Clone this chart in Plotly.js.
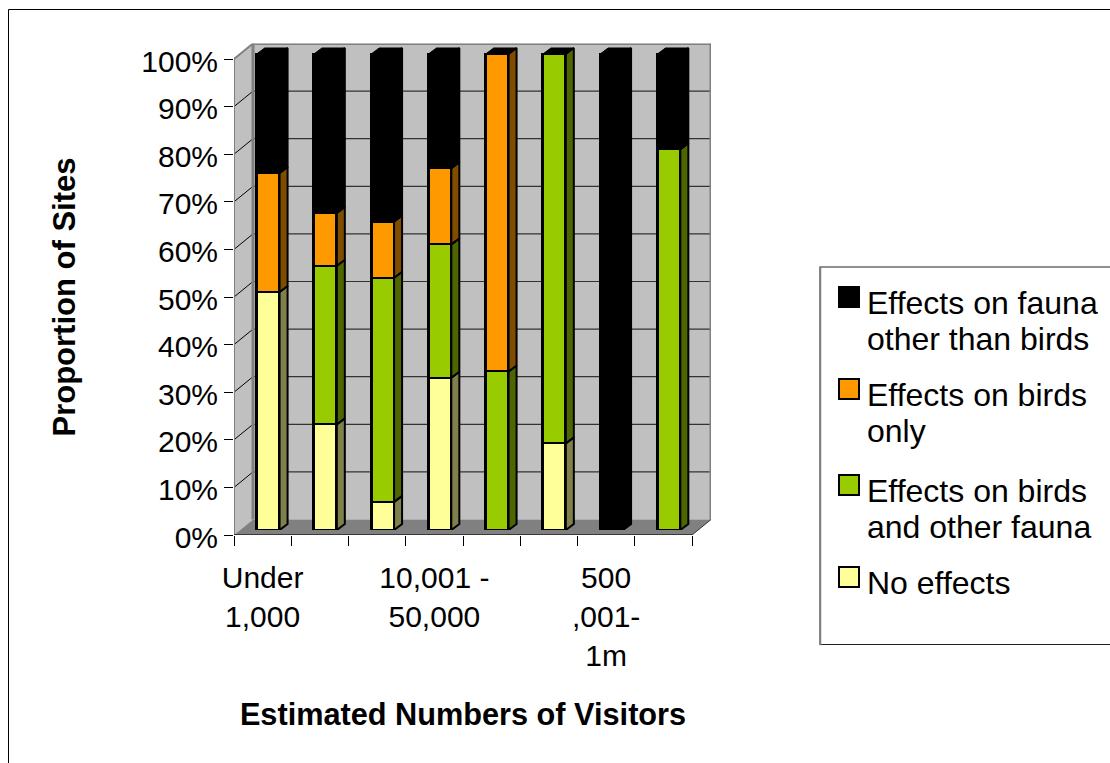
<!DOCTYPE html>
<html>
<head>
<meta charset="utf-8">
<script src="https://cdn.plot.ly/plotly-3.0.1.min.js"></script>
<style>html,body{margin:0;padding:0;background:#fff}#chart{width:1110px;height:763px}</style>
</head>
<body>
<div id="chart"></div>
<script>
// Percentage of sites in each visitor-number band, stacked from the bottom up
const barIndex = [0, 1, 2, 3, 4, 5, 6, 7];
const noEffects = [50, 22.2, 5.9, 32, 0, 18.2, 0, 0];
const birdsAndFauna = [0, 33.3, 47.1, 28, 33.3, 81.8, 0, 80];
const birdsOnly = [25, 11.1, 11.8, 16, 66.7, 0, 0, 0];
const faunaOnly = [25, 33.4, 35.2, 24, 0, 0, 100, 20];

const tickIndex = [0, 3, 6];
const tickLabels = ['Under<br>1,000', '10,001 -<br>50,000', '500<br>,001-<br>1m'];
const percentTicks = [0, 10, 20, 30, 40, 50, 60, 70, 80, 90, 100];
const percentLabels = ['0%', '10%', '20%', '30%', '40%', '50%', '60%', '70%', '80%', '90%', '100%'];

const seriesNames = ['No effects', 'Effects on birds and other fauna', 'Effects on birds only', 'Effects on fauna other than birds'];
const seriesValues = [noEffects, birdsAndFauna, birdsOnly, faunaOnly];
const seriesFront = ['#ffff99', '#99cc00', '#ff9900', '#000000'];
const seriesSide = ['#80804d', '#4d6600', '#804d00', '#000000'];

// Legend rows are listed top to bottom, one entry per text line
const legendRows = [
  {color: '#000000', lines: ['Effects on fauna', 'other than birds']},
  {color: '#ff9900', lines: ['Effects on birds', 'only']},
  {color: '#99cc00', lines: ['Effects on birds', 'and other fauna']},
  {color: '#ffff99', lines: ['No effects']}
];

const W = 1110, H = 763;
const FONT = '"Liberation Sans", Arial, sans-serif';

// Pixel frame of the front plane of the 3D box
const frontLeft = 234, frontRight = 692, frontTop = 59, frontBottom = 535;
const pxPerCat = (frontRight - frontLeft) / 8, pxPerPct = (frontBottom - frontTop) / 100;
const boxDepthX = 19, boxDepthY = 15.5;   // how far the back wall sits behind the front plane
const barShiftX = 5.5, barShiftY = 5;     // how far the bars sit behind the front plane
const barDepthX = 8, barDepthY = 6;       // depth of each bar
const barWidth = 0.4;
const barRoom = 20;                       // spare pixels so bar depth is not clipped at the subplot edge

const dx = v => v / W, dy = v => 1 - v / H;
const xDomain = (a, b) => [dx(a), dx(b)];
const yDomain = (a, b) => [dy(b), dy(a)];

const catRange = [-0.5, 7.5];
const hidden = {visible: true, showgrid: false, zeroline: false, showline: false, ticks: '', showticklabels: false, fixedrange: true};

// Builds the closed outlines for side faces (one list per series) and top caps
const sideX = barDepthX / pxPerCat, sideY = barDepthY / pxPerPct;
const traces = [];
const cumulative = barIndex.map(() => 0);
seriesValues.forEach((vals, s) => {
  traces.push({
    type: 'bar', name: seriesNames[s], x: barIndex, y: vals, xaxis: 'x2', yaxis: 'y2',
    width: barWidth, marker: {color: seriesFront[s], line: {color: '#000', width: 2.5}},
    showlegend: false, hoverinfo: 'name+y'
  });
});
seriesValues.forEach((vals, s) => {
  const xs = [], ys = [];
  vals.forEach((v, i) => {
    const lo = cumulative[i], hi = lo + v;
    cumulative[i] = hi;
    if (v <= 0) return;
    const x1 = i + barWidth / 2, x2 = x1 + sideX;
    xs.push(x1, x2, x2, x1, x1, null);
    ys.push(lo, lo + sideY, hi + sideY, hi, lo, null);
  });
  traces.push({
    type: 'scatter', mode: 'lines', x: xs, y: ys, xaxis: 'x2', yaxis: 'y2', fill: 'toself',
    fillcolor: seriesSide[s], line: {color: '#000', width: 2}, showlegend: false, hoverinfo: 'skip'
  });
});
// Top cap of every stack
const capX = [], capY = [];
barIndex.forEach(i => {
  const x0 = i - barWidth / 2, x1 = i + barWidth / 2, h = cumulative[i];
  capX.push(x0, x1, x1 + sideX, x0 + sideX, x0, null);
  capY.push(h, h, h + sideY, h + sideY, h, null);
});
traces.push({
  type: 'scatter', mode: 'lines', x: capX, y: capY, xaxis: 'x2', yaxis: 'y2', fill: 'toself',
  fillcolor: '#000', line: {color: '#000', width: 1}, showlegend: false, hoverinfo: 'skip'
});

// Box walls, floor and gridlines live on the first subplot, which extends to the back of the box
const wallDX = boxDepthX / pxPerCat, wallDY = boxDepthY / pxPerPct;
const xL = catRange[0], xR = catRange[1];
const poly = pts => 'M' + pts.map(p => p.join(',')).join('L') + 'Z';
const wallShape = (pts, fill) => ({type: 'path', xref: 'x', yref: 'y', layer: 'below', path: poly(pts), fillcolor: fill, line: {width: 0}});
const seg = (x0, y0, x1, y1, color, width) => ({type: 'line', xref: 'x', yref: 'y', layer: 'below', x0, y0, x1, y1, line: {color, width}});
const shapes = [
  wallShape([[xL + wallDX, 0 + wallDY], [xR + wallDX, wallDY], [xR + wallDX, 100 + wallDY], [xL + wallDX, 100 + wallDY]], '#c0c0c0'),
  wallShape([[xL, 0], [xL + wallDX, wallDY], [xL + wallDX, 100 + wallDY], [xL, 100]], '#c0c0c0'),
  wallShape([[xL, 0], [xR, 0], [xR + wallDX, wallDY], [xL + wallDX, wallDY]], '#808080')
];
percentTicks.slice(1, -1).forEach(p => {
  shapes.push(seg(xL, p, xL + wallDX, p + wallDY, '#000', 1));
  shapes.push(seg(xL + wallDX, p + wallDY, xR + wallDX, p + wallDY, '#333', 1.2));
});
shapes.push(
  seg(xL, 0, xL, 100, '#808080', 2),
  seg(xL, 100, xL + wallDX, 100 + wallDY, '#808080', 2),
  seg(xL + wallDX, wallDY, xL + wallDX, 100 + wallDY, '#808080', 3),
  seg(xL + wallDX, 100 + wallDY, xR + wallDX, 100 + wallDY, '#808080', 3),
  seg(xR + wallDX, wallDY, xR + wallDX, 100 + wallDY, '#808080', 3),
  seg(xR, 0, xR + wallDX, wallDY, '#333', 1),
  seg(xL, 0, xR, 0, '#222', 1.5)
);

// Outer frame of the figure and the legend box
const paperRect = (a, b, c, d, line, fill) => ({type: 'rect', xref: 'paper', yref: 'paper', x0: dx(a), x1: dx(c), y0: dy(d), y1: dy(b), line, fillcolor: fill || 'rgba(0,0,0,0)', layer: 'above'});
shapes.push(paperRect(8.5, 9.5, 1120, 780, {color: '#000', width: 1}));
shapes.push(paperRect(820, 267, 1120, 644.5, {color: '#222', width: 1}, '#fff'));
shapes.push(paperRect(820, 267, 820.5, 644.5, {color: '#808080', width: 1.5}));

const legendSwatchX = 838, legendTextX = 865;
const legendStartY = [303, 395, 491, 583];
const legendLineGap = 36;
const annotations = [];
legendRows.forEach((row, r) => {
  const y = legendStartY[r];
  shapes.push(paperRect(legendSwatchX + 1, y - 16, legendSwatchX + 21, y + 4, {color: '#000', width: 2}, row.color));
  row.lines.forEach((t, k) => annotations.push({
    xref: 'paper', yref: 'paper', x: dx(legendTextX), y: dy(y + k * legendLineGap),
    xanchor: 'left', yanchor: 'middle', showarrow: false, text: t, font: {family: FONT, size: 32, color: '#000'}
  }));
});

const layout = {
  width: W, height: H, margin: {l: 0, r: 0, t: 0, b: 0},
  paper_bgcolor: '#fff', plot_bgcolor: 'rgba(0,0,0,0)', showlegend: false, barmode: 'stack', bargap: 0,
  font: {family: FONT, color: '#000'},
  // back-of-box frame
  xaxis: Object.assign({}, hidden, {anchor: 'y', domain: xDomain(frontLeft, frontRight + boxDepthX), range: [xL, xR + wallDX]}),
  yaxis: Object.assign({}, hidden, {anchor: 'x', domain: yDomain(frontTop - boxDepthY, frontBottom), range: [0, 100 + wallDY]}),
  // bar plane, set back slightly inside the box
  xaxis2: Object.assign({}, hidden, {anchor: 'y2', domain: xDomain(frontLeft + barShiftX, frontRight + barShiftX + barRoom), range: [catRange[0], catRange[1] + barRoom / pxPerCat]}),
  yaxis2: Object.assign({}, hidden, {anchor: 'x2', domain: yDomain(frontTop - barShiftY - barRoom, frontBottom - barShiftY), range: [0, 100 + barRoom / pxPerPct]}),
  // front plane carrying ticks, labels and titles
  xaxis3: {
    anchor: 'y3', domain: xDomain(frontLeft, frontRight), range: catRange, fixedrange: true,
    showgrid: false, zeroline: false, showline: false, ticks: '',
    tickmode: 'array', tickvals: tickIndex, ticktext: tickLabels, tickangle: 0,
    tickfont: {family: FONT, size: 30, color: '#000'}, ticklabelstandoff: 22,
    minor: {tickmode: 'array', tickvals: [-0.5, 0.5, 1.5, 2.5, 3.5, 4.5, 5.5, 6.5, 7.5], ticks: 'outside', ticklen: 10, tickcolor: '#000', tickwidth: 1, showgrid: false},
    title: {text: '<b>Estimated Numbers of Visitors</b>', font: {family: FONT, size: 30.7, color: '#000'}, standoff: 32}
  },
  yaxis3: {
    anchor: 'x3', domain: yDomain(frontTop, frontBottom), range: [0, 100], fixedrange: true,
    showgrid: false, zeroline: false, showline: false,
    tickmode: 'array', tickvals: percentTicks, ticktext: percentLabels, ticks: 'outside', ticklen: 9, tickcolor: '#000', tickwidth: 1,
    tickfont: {family: FONT, size: 30, color: '#000'}, ticklabelshift: 2,
    title: {text: '<b>Proportion of Sites</b>', font: {family: FONT, size: 31, color: '#000'}, standoff: 56}
  },
  shapes, annotations
};

// An empty trace keeps the front-plane subplot and its axes on the page
traces.unshift({type: 'scatter', x: [], y: [], xaxis: 'x3', yaxis: 'y3', showlegend: false, hoverinfo: 'skip'});

Plotly.newPlot('chart', traces, layout, {displayModeBar: false, responsive: false});
</script>
</body>
</html>
